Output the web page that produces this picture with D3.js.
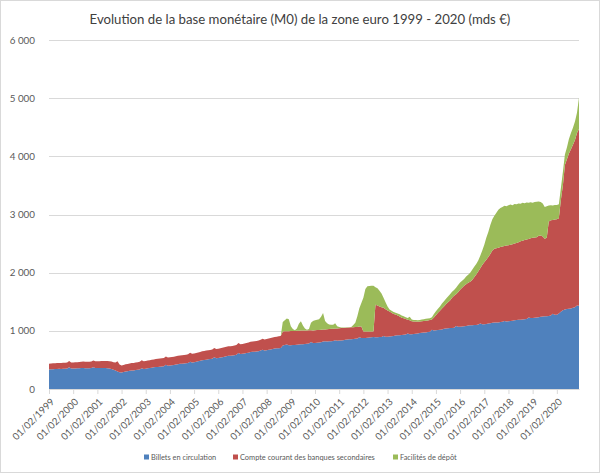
<!DOCTYPE html>
<html>
<head>
<meta charset="utf-8">
<script src="https://cdn.jsdelivr.net/npm/d3@7"></script>
<style>
  body { margin: 0; background: #fff; }
  svg { display: block; font-family: Lato, "Open Sans", "Liberation Sans", sans-serif; }
</style>
</head>
<body>
<svg id="chart" width="600" height="473"></svg>
<script>
// ---------- DATA (mds €, monthly from 01/02/1999 to 01/01/2021) ----------
const chartTitle = "Evolution de la base monétaire (M0) de la zone euro 1999 - 2020 (mds €)";
const seriesNames = ["Billets en circulation", "Compte courant des banques secondaires", "Facilités de dépôt"];
const tickLabels = ["01/02/1999","01/02/2000","01/02/2001","01/02/2002","01/02/2003","01/02/2004",
  "01/02/2005","01/02/2006","01/02/2007","01/02/2008","01/02/2009","01/02/2010","01/02/2011",
  "01/02/2012","01/02/2013","01/02/2014","01/02/2015","01/02/2016","01/02/2017","01/02/2018",
  "01/02/2019","01/02/2020"];
const yTicks = [0, 1000, 2000, 3000, 4000, 5000, 6000];

const billets = [
  337,338,340,342,344,346,345,347,349,352,375,352,
  352,354,356,357,360,362,358,358,358,360,372,362,
  362,362,363,360,360,358,352,345,332,316,300,290,
  285,292,300,305,312,318,320,325,330,335,358,345,
  350,355,360,366,372,378,380,384,388,393,415,400,
  404,410,414,420,427,432,434,438,442,448,470,455,
  460,468,475,485,495,500,505,510,515,522,545,530,
  535,540,548,555,565,570,572,575,580,590,620,600,
  605,610,618,625,635,640,640,645,650,660,675,662,
  668,675,680,688,695,700,702,705,748,755,765,752,
  752,755,758,762,766,770,770,772,776,782,806,790,
  792,795,800,805,815,820,818,820,822,825,840,830,
  832,835,840,845,850,855,855,858,862,868,888,875,
  875,878,882,885,890,895,890,890,893,895,913,900,
  900,902,908,912,918,925,925,928,932,938,956,940,
  942,945,950,955,962,968,970,972,978,985,1017,1005,
  1008,1015,1020,1025,1035,1042,1045,1048,1050,1055,1083,1070,
  1072,1075,1080,1085,1090,1095,1095,1100,1102,1108,1126,1115,
  1115,1118,1125,1130,1138,1142,1142,1145,1150,1155,1171,1162,
  1165,1168,1175,1180,1185,1190,1192,1195,1200,1205,1231,1220,
  1220,1225,1230,1235,1240,1248,1250,1252,1255,1262,1293,1275,
  1275,1300,1330,1355,1365,1375,1380,1385,1395,1405,1435,1430
];

const comptesCourants = [
  98,100,102,100,101,103,102,104,102,104,108,105,
  104,105,106,108,107,110,112,110,112,113,118,115,
  115,116,118,120,120,122,125,128,130,140,175,130,
  120,122,124,126,125,128,128,130,130,132,135,132,
  132,134,135,136,135,138,138,140,140,140,142,140,
  140,142,140,143,145,145,146,148,148,150,152,150,
  150,152,152,153,153,155,155,156,156,158,160,158,
  158,160,160,162,162,163,165,165,166,168,170,168,
  170,172,172,175,176,178,180,182,182,185,190,188,
  190,192,195,196,198,200,203,205,240,238,228,240,
  243,242,240,238,236,234,235,233,230,226,205,215,
  220,218,216,215,210,205,210,210,212,210,200,212,
  212,212,210,208,205,203,205,205,205,200,187,200,
  114,111,107,104,99,94,557,545,525,510,482,470,
  450,430,402,378,362,337,320,297,283,267,236,240,
  223,215,210,203,198,197,200,203,200,200,178,225,
  262,295,325,360,385,413,445,472,520,550,547,595,
  633,665,695,715,735,750,780,820,868,912,949,1015,
  1065,1102,1145,1190,1242,1268,1278,1285,1290,1295,1289,1303,
  1305,1312,1315,1320,1325,1335,1348,1355,1360,1365,1349,1370,
  1380,1380,1380,1400,1400,1372,1335,1348,1625,1638,1612,1640,
  1645,1635,1920,2145,2485,2575,2670,2735,2805,2875,2965,3040
];

const facilitesDepot = [
  0,0,0,0,0,0,0,0,0,0,0,0,
  0,0,0,0,0,0,0,0,0,0,0,0,
  0,0,0,0,0,0,0,0,0,0,0,0,
  0,0,0,0,0,0,0,0,0,0,0,0,
  0,0,0,0,0,0,0,0,0,0,0,0,
  0,0,0,0,0,0,0,0,0,0,0,0,
  0,0,0,0,0,0,0,0,0,0,0,0,
  0,0,0,0,0,0,0,0,0,0,0,0,
  0,0,0,0,0,0,0,0,0,0,0,0,
  0,0,0,0,0,0,0,0,162,187,217,208,
  85,33,12,40,118,161,85,35,14,22,129,165,
  168,177,184,220,280,145,102,80,71,68,90,38,
  21,11,7,4,5,4,5,37,73,182,315,405,
  581,731,776,783,786,784,303,295,272,235,175,120,
  70,33,35,32,30,35,38,40,35,30,28,60,
  30,28,25,25,27,30,30,32,35,33,40,60,
  65,70,75,85,90,95,100,110,100,95,110,125,
  125,120,115,135,140,155,175,180,180,190,215,250,
  300,380,430,500,540,570,610,650,670,680,690,675,
  690,690,670,680,665,665,645,650,635,635,620,620,
  600,610,610,590,575,570,545,540,275,260,250,250,
  245,240,200,230,180,200,250,280,290,320,350,540
];

const colors = ["#4F81BD", "#C0504D", "#9BBB59"];

// ---------- CHART ----------
const W = 600, H = 473;
const plot = { left: 49, right: 579, top: 40, bottom: 389 };
const svg = d3.select("#chart");

svg.append("rect").attr("x", 0.5).attr("y", 0.5).attr("width", W - 1).attr("height", H - 1)
  .attr("fill", "#fff").attr("stroke", "#D9D9D9");

const idx = d3.range(billets.length);
const x = d3.scalePoint().domain(idx).range([plot.left, plot.right]);
const y = d3.scaleLinear().domain([0, 6000]).range([plot.bottom, plot.top]);

// gridlines
svg.append("g").selectAll("line").data(yTicks.filter(v => v > 0)).join("line")
  .attr("x1", plot.left).attr("x2", plot.right)
  .attr("y1", d => Math.round(y(d)) + 0.5).attr("y2", d => Math.round(y(d)) + 0.5)
  .attr("stroke", "#D9D9D9").attr("stroke-width", 1);

// stacked areas
const rows = idx.map(i => ({ i, b: billets[i], c: comptesCourants[i], d: facilitesDepot[i] }));
const stacked = d3.stack().keys(["b", "c", "d"])(rows);
const area = d3.area()
  .x(d => x(d.data.i))
  .y0(d => y(d[0]))
  .y1(d => y(d[1]));
svg.append("g").selectAll("path").data(stacked).join("path")
  .attr("d", area)
  .attr("fill", (d, i) => colors[i]);

// y axis
const fr = d3.formatLocale({ decimal: ",", thousands: " ", grouping: [3], currency: ["", " €"] });
const yAxis = d3.axisLeft(y).tickValues(yTicks).tickFormat(fr.format(",")).tickSize(0).tickPadding(0);
const gy = svg.append("g").attr("transform", `translate(${plot.left - 14},0)`).call(yAxis);
gy.select(".domain").remove();
gy.selectAll("text").attr("fill", "#595959").style("font-size", "9.8px").style("font-family", "Lato, sans-serif");

// x axis
const tickIdx = idx.filter(i => i % 12 === 0);
const xAxis = d3.axisBottom(x).tickValues(tickIdx).tickFormat((d, i) => tickLabels[i]).tickSize(5).tickSizeOuter(0);
const gx = svg.append("g").attr("transform", `translate(0,${plot.bottom})`).call(xAxis);
gx.select(".domain").attr("stroke", "#D9D9D9");
gx.selectAll(".tick line").attr("stroke", "#D9D9D9");
gx.selectAll("text")
  .attr("fill", "#595959").style("font-size", "9.8px").style("font-family", "Lato, sans-serif")
  .attr("text-anchor", "end")
  .attr("x", 0).attr("y", 0).attr("dy", "0.35em")
  .attr("transform", "translate(3,11) rotate(-45)");

// title
svg.append("text").attr("x", W / 2).attr("y", 24).attr("text-anchor", "middle")
  .attr("fill", "#404040").style("font-size", "13.2px").style("font-family", "Lato, sans-serif")
  .text(chartTitle);

// legend
const legendPos = [144, 233, 393];
const lg = svg.append("g").selectAll("g").data(seriesNames).join("g")
  .attr("transform", (d, i) => `translate(${legendPos[i]},457)`);
lg.append("rect").attr("x", 0).attr("y", -2.5).attr("width", 5).attr("height", 5).attr("fill", (d, i) => colors[i]);
lg.append("text").attr("x", 7).attr("y", 0).attr("dy", "0.35em")
  .attr("fill", "#595959").style("font-size", "7.4px").style("font-family", "Lato, sans-serif")
  .text(d => d);
</script>
</body>
</html>
